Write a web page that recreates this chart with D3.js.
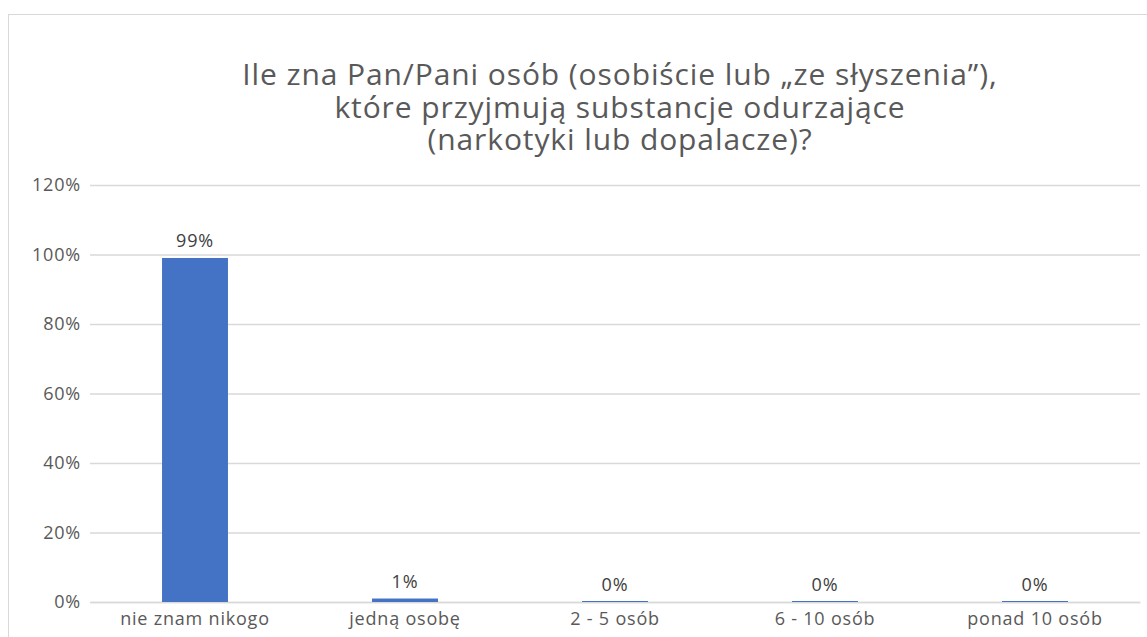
<!DOCTYPE html>
<html>
<head>
<meta charset="utf-8">
<script src="https://cdn.jsdelivr.net/npm/d3@7"></script>
<style>
  body { margin: 0; background: #fff; }
  svg { display: block; font-family: "Open Sans", sans-serif; }
</style>
</head>
<body>
<div id="chart"></div>
<script>
// chart data
const titleLines = [
    'Ile zna Pan/Pani osób (osobiście lub „ze słyszenia”),',
    'które przyjmują substancje odurzające',
    '(narkotyki lub dopalacze)?'
];
const categories = ['nie znam nikogo', 'jedną osobę', '2 - 5 osób', '6 - 10 osób', 'ponad 10 osób'];
const values = [0.99, 0.01, 0, 0, 0];
const yTicks = [0, 0.2, 0.4, 0.6, 0.8, 1.0, 1.2];

const W = 1147, H = 637;
const margin = { top: 185, right: 7, bottom: 35, left: 90 };
const width = W - margin.left - margin.right;
const height = H - margin.top - margin.bottom;
const fontFam = '"Open Sans", sans-serif';

const svg = d3.select('#chart').append('svg')
    .attr('width', W)
    .attr('height', H);

// outer chart frame
svg.append('rect')
    .attr('x', 8.5).attr('y', 14.5)
    .attr('width', 1300).attr('height', 700)
    .attr('fill', 'none')
    .attr('stroke', '#d9d9d9')
    .attr('stroke-width', 1);

// title
svg.append('text')
    .attr('text-anchor', 'middle')
    .attr('fill', '#595959')
    .style('font-size', '30px')
    .style('letter-spacing', '0.9px')
    .selectAll('tspan')
    .data(titleLines)
    .join('tspan')
    .attr('x', 620)
    .attr('y', (d, i) => 85 + i * 32.5)
    .text(d => d);

const g = svg.append('g')
    .attr('transform', `translate(${margin.left},${margin.top})`);

const x = d3.scaleBand()
    .domain(categories)
    .range([0, width])
    .paddingInner(0.686)
    .paddingOuter(0.343);

const y = d3.scaleLinear()
    .domain([0, 1.2])
    .range([height, 0]);

// gridlines
const yAxis = d3.axisLeft(y)
    .tickValues(yTicks)
    .tickSize(-width)
    .tickPadding(9)
    .tickFormat(d3.format('.0%'));

g.append('g')
    .attr('class', 'y-axis')
    .call(yAxis)
    .attr('font-family', fontFam)
    .call(s => s.select('.domain').remove())
    .call(s => s.selectAll('line').attr('stroke', '#d9d9d9').attr('stroke-width', 1.3))
    .call(s => s.selectAll('text').attr('fill', '#595959')
        .style('font-size', '18px').style('letter-spacing', '0.8px'));

// x axis
const xAxis = d3.axisBottom(x).tickSize(0).tickPadding(10);
g.append('g')
    .attr('class', 'x-axis')
    .attr('transform', `translate(0,${height})`)
    .call(xAxis)
    .attr('font-family', fontFam)
    .call(s => s.select('.domain').attr('stroke', '#d9d9d9').attr('stroke-width', 1.3))
    .call(s => s.selectAll('text').attr('fill', '#595959')
        .style('font-size', '18px').style('letter-spacing', '0.8px'));

const barData = categories.map((c, i) => ({ cat: c, val: values[i] }));

// bars (zero values still show as a thin line)
g.selectAll('rect.bar')
    .data(barData)
    .join('rect')
    .attr('class', 'bar')
    .attr('x', d => x(d.cat))
    .attr('width', x.bandwidth())
    .attr('y', d => Math.min(y(d.val), height - 1))
    .attr('height', d => Math.max(height - y(d.val), 1))
    .attr('fill', '#4472c4');

// data labels
g.selectAll('text.label')
    .data(barData)
    .join('text')
    .attr('class', 'label')
    .attr('x', d => x(d.cat) + x.bandwidth() / 2)
    .attr('y', d => y(d.val) - 11)
    .attr('text-anchor', 'middle')
    .attr('fill', '#404040')
    .style('font-size', '18px')
    .style('letter-spacing', '0.8px')
    .text(d => d3.format('.0%')(d.val));
</script>
</body>
</html>
